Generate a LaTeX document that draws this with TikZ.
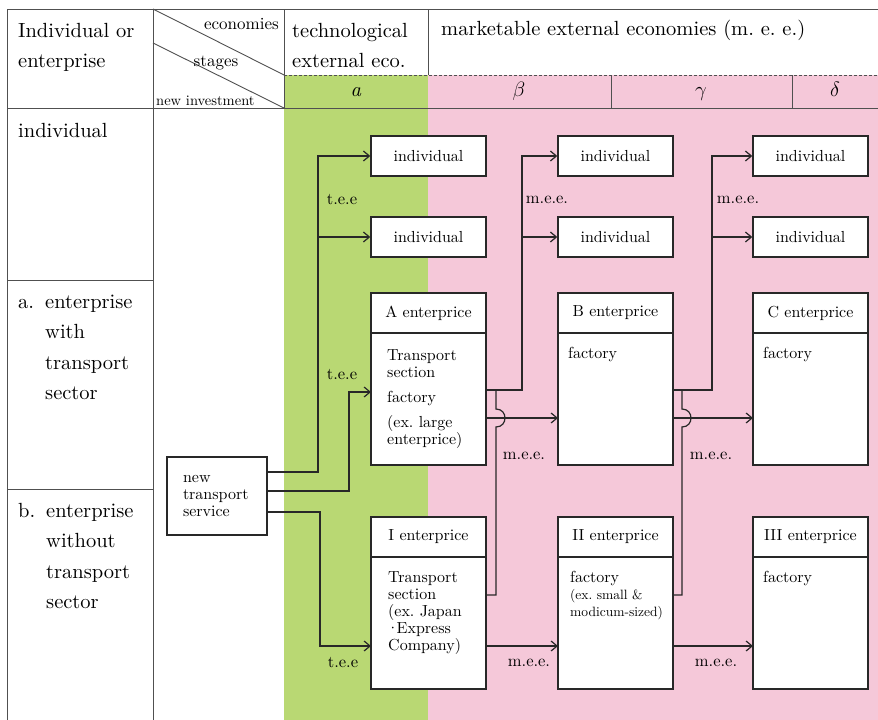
\documentclass[tikz,border=0pt]{standalone}
\usepackage{amsmath}
\usepackage{fontspec}
\setmainfont{lmroman10-regular.otf}[ItalicFont=lmroman10-italic.otf, BoldFont=lmroman10-bold.otf]
\usepackage{xcolor}
\usepackage{tikz}
\usetikzlibrary{arrows.meta, positioning, calc}
\definecolor{teegreen}{RGB}{185, 216, 115}
\definecolor{meepink}{RGB}{245, 200, 217}
\definecolor{rulegray}{RGB}{80, 80, 80}
\definecolor{boxgray}{RGB}{40, 40, 40}
\newcommand{\bigtext}{\fontsize{20.5}{30}\selectfont}
\newcommand{\rowtext}{\fontsize{20.5}{30.5}\selectfont}
\newcommand{\boxtext}{\fontsize{16}{17}\selectfont}
\newcommand{\smalltext}{\fontsize{13.5}{17}\selectfont}
\newcommand{\lbltext}{\fontsize{16.5}{17}\selectfont}
\newcommand{\headtext}{\fontsize{17}{18}\selectfont}
\tikzstyle{rule} = [draw=rulegray, line width=0.9pt]
\tikzstyle{cell} = [inner sep=0pt, anchor=base west, align=left, font=\bigtext]
\tikzstyle{indbox} = [rectangle, draw=boxgray, fill=white, line width=1.4pt, minimum width=115pt, minimum height=40pt, font=\boxtext]
\tikzstyle{enthead} = [rectangle, draw=boxgray, fill=white, line width=1.4pt, outer sep=0pt, minimum width=115pt, minimum height=40pt, font=\boxtext, anchor=north west]
\tikzstyle{entbody} = [rectangle, draw=boxgray, fill=white, line width=1.4pt, outer sep=0pt, minimum width=115pt, minimum height=132pt]
\tikzstyle{bodytext} = [inner sep=0pt, anchor=base west, align=left, font=\boxtext]
\tikzstyle{ntsbox} = [rectangle, draw=boxgray, fill=white, line width=1.4pt, outer sep=0pt, minimum width=100pt, minimum height=78pt, text width=68pt, align=left, font=\boxtext]
\tikzstyle{arrow} = [-{Straight Barb[length=6pt,width=10pt]}, line width=1.2pt, draw=boxgray]
\tikzstyle{flow} = [line width=1.2pt, draw=boxgray]
\tikzstyle{lbl} = [inner sep=0pt, font=\lbltext]

\begin{document}
\begin{tikzpicture}[x=1pt, y=-1pt]
    \useasboundingbox (0,0) rectangle (878,720);
    % Column colours
    \fill[white] (0,0) rectangle (878,720);
    \fill[teegreen] (284,75) rectangle (428,720);
    \fill[meepink] (428,75) rectangle (878,720);

    % Table rules
    \draw[rule] (7,720) -- (7,9) -- (878,9);
    \draw[rule] (7,108) -- (878,108);
    \draw[rule] (153,9) -- (153,720);
    \draw[rule] (284,9) -- (284,108);
    \draw[rule] (428,9) -- (428,75);
    \draw[rule, dash pattern=on 3pt off 2pt] (284,75) -- (878,75);
    \draw[rule] (611,75) -- (611,108);
    \draw[rule] (792,75) -- (792,108);
    \draw[rule] (7,280) -- (153,280);
    \draw[rule] (7,489) -- (153,489);
    \draw[rule] (153,9) -- (284,75);
    \draw[rule] (153,43) -- (284,108);

    % Header (multi-line nodes sit on their last baseline)
    \node[cell] (hdrrow) at (18,67) {Individual or\\enterprise};
    \node[cell, font=\headtext, anchor=base east] (hdrecon) at (279,29) {economies};
    \node[cell, font=\headtext, anchor=base] (hdrstage) at (216,66) {stages};
    \node[cell, font=\fontsize{14.5}{16}\selectfont] (hdrinv) at (156,105) {new investment};
    \node[cell] (hdrtee) at (292,67) {technological\\external eco.};
    \node[cell] (hdrmee) at (441,35) {marketable external economies (m.\ e.\ e.)};
    \node[cell, anchor=base] (stga) at (356,96) {\textit{a}};
    \node[cell, anchor=base] (stgb) at (519,96) {$\beta$};
    \node[cell, anchor=base] (stgc) at (701,96) {$\gamma$};
    \node[cell, anchor=base] (stgd) at (835,96) {$\delta$};

    % Row titles
    \node[cell] (rowind) at (18,137) {individual};
    \node[cell] (rowalbl) at (18,308) {a.};
    \node[cell, font=\rowtext] (rowa) at (45,399.5) {enterprise\\with\\transport\\sector};
    \node[cell] (rowblbl) at (18,517) {b.};
    \node[cell, font=\rowtext] (rowb) at (46,608.5) {enterprise\\without\\transport\\sector};

    % Individuals
    \node[indbox] (ind1) at (428.5,156) {individual};
    \node[indbox] (ind2) at (428.5,237) {individual};
    \node[indbox] (ind3) at (615.5,156) {individual};
    \node[indbox] (ind4) at (615.5,237) {individual};
    \node[indbox] (ind5) at (810.5,156) {individual};
    \node[indbox] (ind6) at (810.5,237) {individual};

    % Enterprises with transport sector
    \node[enthead] (Ahead) at (371,293) {A enterprice};
    \node[entbody, below=0pt of Ahead] (Abody) {};
    \node[bodytext] (Atext) at ([xshift=16pt,yshift=-111pt]Abody.north west) {Transport\\section\\[8pt]factory\\[8pt](ex.\ large\\enterprice)};
    \node[enthead] (Bhead) at (558,293) {B enterprice};
    \node[entbody, below=0pt of Bhead] (Bbody) {};
    \node[bodytext] (Btext) at ([xshift=10pt,yshift=-25pt]Bbody.north west) {factory};
    \node[enthead] (Chead) at (753,293) {C enterprice};
    \node[entbody, below=0pt of Chead] (Cbody) {};
    \node[bodytext] (Ctext) at ([xshift=10pt,yshift=-25pt]Cbody.north west) {factory};

    % Enterprises without transport sector
    \node[enthead] (Ihead) at (371,517) {I enterprice};
    \node[entbody, below=0pt of Ihead] (Ibody) {};
    \node[bodytext] (Itext) at ([xshift=17pt,yshift=-93pt]Ibody.north west) {Transport\\section\\(ex.\ Japan\\\kern-1.5pt·\kern-2.5pt Express\\Company)};
    \node[enthead] (IIhead) at (558,517) {II enterprice};
    \node[entbody, below=0pt of IIhead] (IIbody) {};
    \node[bodytext] (IItext) at ([xshift=12pt,yshift=-59pt]IIbody.north west) {factory\\{\smalltext (ex.\ small \&}\\{\smalltext modicum-sized)}};
    \node[enthead] (IIIhead) at (753,517) {III enterprice};
    \node[entbody, below=0pt of IIIhead] (IIIbody) {};
    \node[bodytext] (IIItext) at ([xshift=10pt,yshift=-25pt]IIIbody.north west) {factory};

    % New investment
    \node[ntsbox] (nts) at (217,496) {new\\transport\\service};

    % Bends and crossings
    \coordinate (tee1) at (318,156);
    \coordinate (tee2) at (349,392);
    \coordinate (tee3) at (320,646);
    \coordinate (meeA) at (522,156);
    \coordinate (meeB) at (712,156);
    \coordinate (hopA) at (496,418);
    \coordinate (hopB) at (682,418);
    \coordinate (jA) at (496,390);
    \coordinate (jB) at (682,390);

    % t.e.e connectors
    \draw[arrow] ([yshift=24pt]nts.east) -| (tee1) -- (ind1.west);
    \draw[arrow] (tee1 |- ind2.west) -- (ind2.west);
    \draw[arrow] ([yshift=5pt]nts.east) -| (tee2) -- (tee2 -| Abody.west);
    \draw[arrow] ([yshift=-16pt]nts.east) -| (tee3) -- (tee3 -| Ibody.west);

    % m.e.e. connectors
    \draw[arrow] ([yshift=9pt]Abody.east) -| (meeA) -- (ind3.west);
    \draw[arrow] (meeA |- ind4.west) -- (ind4.west);
    \draw[arrow] ([yshift=-19pt]Abody.east) -- ([yshift=-19pt]Bbody.west);
    \draw[flow] ([yshift=28pt]Ibody.east) -| ([yshift=-9pt]hopA) .. controls +(12,0) and +(12,0) .. ([yshift=9pt]hopA) -- (jA);
    \draw[arrow] ([yshift=9pt]Bbody.east) -| (meeB) -- (ind5.west);
    \draw[arrow] (meeB |- ind6.west) -- (ind6.west);
    \draw[arrow] ([yshift=-19pt]Bbody.east) -- ([yshift=-19pt]Cbody.west);
    \draw[flow] ([yshift=28pt]IIbody.east) -| ([yshift=-9pt]hopB) .. controls +(12,0) and +(12,0) .. ([yshift=9pt]hopB) -- (jB);
    \draw[arrow] ([yshift=-23pt]Ibody.east) -- ([yshift=-23pt]IIbody.west);
    \draw[arrow] ([yshift=-23pt]IIbody.east) -- ([yshift=-23pt]IIIbody.west);

    % Labels
    \node[lbl] (lbltee1) at (342,200) {t.e.e};
    \node[lbl] (lbltee2) at (342,375) {t.e.e};
    \node[lbl] (lbltee3) at (343,663) {t.e.e};
    \node[lbl] (lblmee1) at (547,200) {m.e.e.};
    \node[lbl] (lblmee2) at (738,200) {m.e.e.};
    \node[lbl] (lblmee3) at (524,456) {m.e.e.};
    \node[lbl] (lblmee4) at (711,456) {m.e.e.};
    \node[lbl] (lblmee5) at (529,663) {m.e.e.};
    \node[lbl] (lblmee6) at (716,663) {m.e.e.};
\end{tikzpicture}
\end{document}
